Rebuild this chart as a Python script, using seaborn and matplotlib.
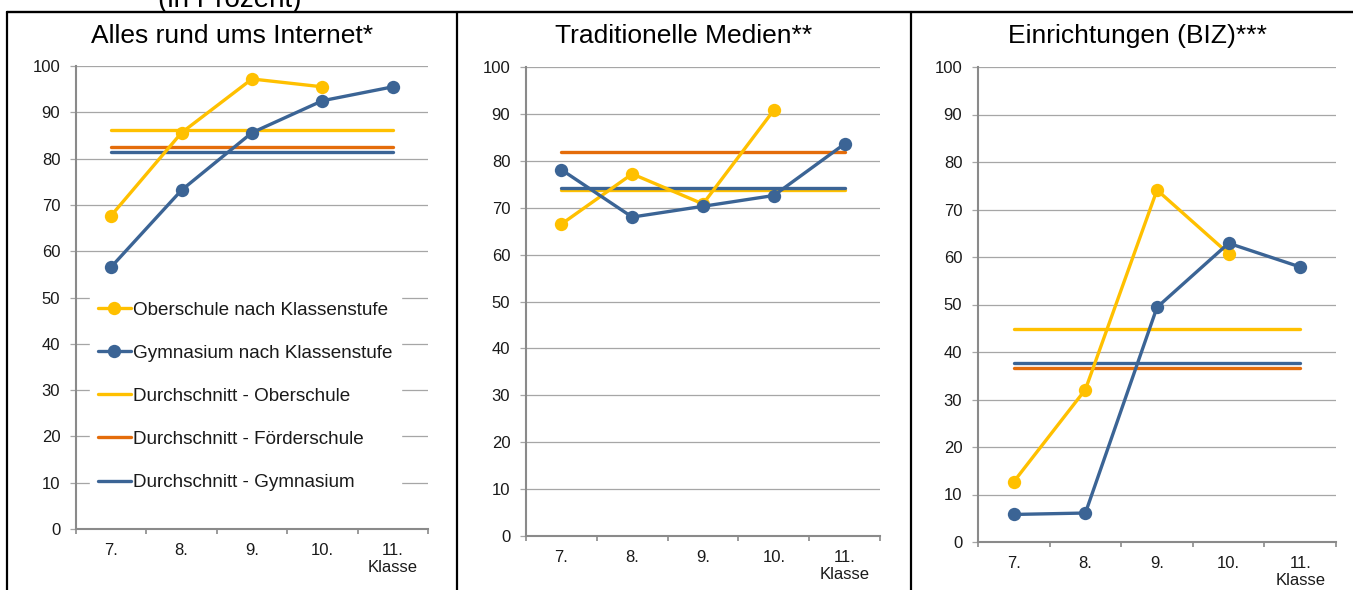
import numpy as np
import pandas as pd
import matplotlib
matplotlib.use('Agg')
import matplotlib.pyplot as plt
import seaborn as sns
from matplotlib.lines import Line2D

# ---------------- data ----------------
grades = ['7.', '8.', '9.', '10.', '11.']
x_unit = 'Klasse'
titles = ['Alles rund ums Internet*', 'Traditionelle Medien**', 'Einrichtungen (BIZ)***']
header = '(in Prozent)'

ober_internet = [67.7, 85.6, 97.2, 95.5, np.nan]
gym_internet = [56.6, 73.2, 85.6, 92.5, 95.5]
ober_medien = [66.5, 77.2, 70.8, 90.8, np.nan]
gym_medien = [78.1, 68.0, 70.3, 72.6, 83.6]
ober_biz = [12.7, 32.1, 74.1, 60.7, np.nan]
gym_biz = [5.8, 6.1, 49.4, 62.9, 57.9]

avg_ober = [86.1, 73.8, 44.8]
avg_foerder = [82.5, 81.8, 36.7]
avg_gym = [81.5, 74.3, 37.7]

legend_labels = ['Oberschule nach Klassenstufe', 'Gymnasium nach Klassenstufe',
                 'Durchschnitt - Oberschule', 'Durchschnitt - Förderschule',
                 'Durchschnitt - Gymnasium']

# ---------------- style ----------------
sns.set_style('white')
plt.rcParams['font.family'] = ['Liberation Sans', 'DejaVu Sans']

YELLOW = '#FFC000'
BLUE = '#3B6495'
ORANGE = '#E46C0A'
GRID = '#a6a6a6'
AXIS = '#8a8a8a'
TXT = '#1a1a1a'
LW = 2.4
MS = 9.6

W, H = 1353, 590
fig = plt.figure(figsize=(W / 100, H / 100), dpi=100)

# axes rectangles in pixels: left, right, top, bottom
rects = [(76, 428, 66, 529), (526, 880, 67, 536), (978, 1336, 67, 542)]
title_x = [232, 684, 1137]

series_ober = [ober_internet, ober_medien, ober_biz]
series_gym = [gym_internet, gym_medien, gym_biz]

x = np.arange(len(grades))
axes = []
for i, (l, r, t, b) in enumerate(rects):
    ax = fig.add_axes([l / W, 1 - b / H, (r - l) / W, (b - t) / H])
    axes.append(ax)

    # averages
    for vals, col in [(avg_ober, YELLOW), (avg_foerder, ORANGE), (avg_gym, BLUE)]:
        df = pd.DataFrame({'x': x, 'y': [vals[i]] * len(x)})
        sns.lineplot(data=df, x='x', y='y', color=col, lw=LW, ax=ax,
                     estimator=None, legend=False)
    # series by grade
    for vals, col in [(series_ober[i], YELLOW), (series_gym[i], BLUE)]:
        df = pd.DataFrame({'x': x, 'y': vals}).dropna()
        sns.lineplot(data=df, x='x', y='y', color=col, lw=LW, marker='o',
                     markersize=MS, markeredgewidth=0, ax=ax,
                     estimator=None, legend=False)

    ax.set_xlim(-0.5, len(grades) - 0.5)
    ax.set_ylim(0, 100)
    ax.set_yticks(np.arange(0, 101, 10))
    ax.set_xticks(np.arange(-0.5, len(grades)), [''] * (len(grades) + 1))
    labels = list(grades)
    labels[-1] = labels[-1] + '\n' + x_unit
    ax.set_xticks(x, labels, minor=True)
    ax.set_xlabel('')
    ax.set_ylabel('')

    ax.yaxis.grid(True, color=GRID, lw=0.9)
    ax.xaxis.grid(False)
    ax.set_axisbelow(True)
    for s in ['top', 'right']:
        ax.spines[s].set_visible(False)
    for s in ['left', 'bottom']:
        ax.spines[s].set_color(AXIS)
        ax.spines[s].set_linewidth(1.5)

    ax.tick_params(axis='x', which='minor', length=0, pad=10,
                   labelsize=12, labelcolor=TXT)
    ax.tick_params(axis='x', which='major', length=3.5, width=1.2,
                   color=AXIS, direction='out', bottom=True)
    ax.tick_params(axis='y', length=4.3, width=0.9, color=GRID,
                   direction='out', left=True, pad=7,
                   labelsize=12, labelcolor=TXT)
    for lab in ax.get_xticklabels(minor=True):
        lab.set_multialignment('center')

    fig.text(title_x[i] / W, 1 - 43 / H, titles[i], ha='center', va='baseline',
             fontsize=19, color='black')

# legend in first panel
handles = [
    Line2D([], [], color=YELLOW, lw=LW, marker='o', markersize=MS, markeredgewidth=0),
    Line2D([], [], color=BLUE, lw=LW, marker='o', markersize=MS, markeredgewidth=0),
    Line2D([], [], color=YELLOW, lw=LW),
    Line2D([], [], color=ORANGE, lw=LW),
    Line2D([], [], color=BLUE, lw=LW),
]
leg = axes[0].legend(handles, legend_labels, loc='upper left',
                     bbox_to_anchor=(14 / 352, (529 - 294) / 463),
                     frameon=True, fancybox=False, framealpha=1,
                     edgecolor='white', facecolor='white',
                     fontsize=13.6, handlelength=1.75, handletextpad=0.15,
                     labelspacing=1.37, borderpad=0.4, borderaxespad=0)
for t in leg.get_texts():
    t.set_color(TXT)

# header text (partly cut off at the top, as in the source) and table borders
fig.text(230 / W, 1 - 7 / H, header, ha='center', va='baseline',
         fontsize=20, color='black')
fig.add_artist(Line2D([7 / W, 1], [1 - 12 / H, 1 - 12 / H],
                      transform=fig.transFigure, color='black', lw=1.7))
for xv in [7, 457, 911]:
    fig.add_artist(Line2D([xv / W, xv / W], [1 - 12 / H, 0],
                          transform=fig.transFigure, color='black', lw=1.6))

fig.savefig('out.png', dpi=100)
